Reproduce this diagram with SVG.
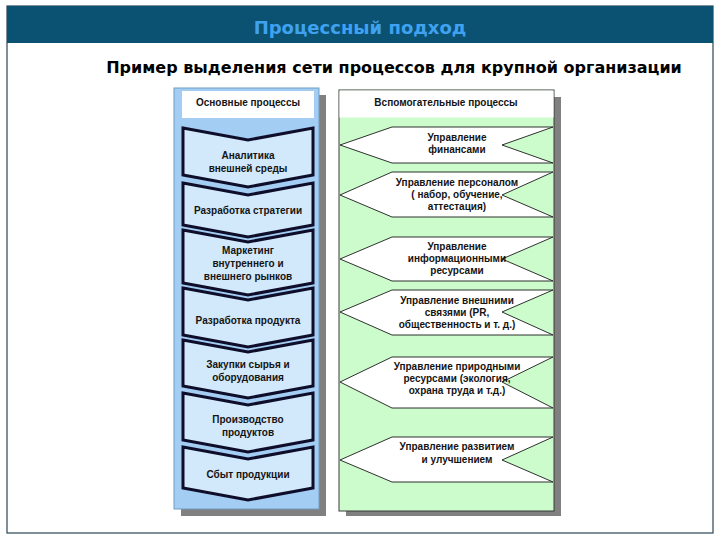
<svg xmlns="http://www.w3.org/2000/svg" width="720" height="540" viewBox="0 0 720 540">
<defs>
<style>
.t{font-family:"Liberation Sans",Arial,sans-serif;font-size:10px;font-weight:bold;fill:#141414;text-anchor:middle}
.chev{fill:#d2e8fb;stroke:#0e0e2a;stroke-width:3;stroke-linejoin:miter}
.hex{fill:#ffffff;stroke:#1a1a1a;stroke-width:0.9}
.shadow{fill:#808080}
</style>
</defs>
<rect x="0" y="0" width="720" height="540" fill="#ffffff"/>
<rect x="7" y="6" width="706" height="527" fill="#ffffff" stroke="#2a4654" stroke-width="1.2"/>
<rect x="7" y="6" width="706" height="37" fill="#0b5272"/>
<text x="360" y="34" font-family="DejaVu Sans,Verdana,sans-serif" font-size="18" font-weight="bold" fill="#3fa2f0" text-anchor="middle">Процессный подход</text>
<text x="394" y="73" font-family="DejaVu Sans,Verdana,sans-serif" font-size="16" font-weight="bold" fill="#000000" text-anchor="middle">Пример выделения сети процессов для крупной организации</text>

<g id="main-panel">
<rect class="shadow" x="181" y="95" width="145" height="421"/>
<rect x="174" y="88" width="145" height="421" fill="#a4cdf3" stroke="#6f9cc6" stroke-width="1"/>
<rect x="182" y="91" width="132" height="27" fill="#ffffff"/>
<text class="t" x="248" y="106">Основные процессы</text>
</g>

<g id="n1"><path class="chev" d="M183,128 L248,140 L313,128 L313,175 L248,187 L183,175 Z"/>
<text class="t" x="248" y="159">Аналитика</text><text class="t" x="248" y="172">внешней среды</text></g>
<g id="n2"><path class="chev" d="M183,183 L248,195 L313,183 L313,225 L248,237 L183,225 Z"/>
<text class="t" x="248" y="214">Разработка стратегии</text></g>
<g id="n3"><path class="chev" d="M183,230 L248,242 L313,230 L313,283 L248,295 L183,283 Z"/>
<text class="t" x="248" y="254">Маркетинг</text><text class="t" x="248" y="267">внутреннего и</text><text class="t" x="248" y="280">внешнего рынков</text></g>
<g id="n4"><path class="chev" d="M183,288 L248,300 L313,288 L313,335 L248,347 L183,335 Z"/>
<text class="t" x="248" y="324">Разработка продукта</text></g>
<g id="n5"><path class="chev" d="M183,340 L248,352 L313,340 L313,386 L248,398 L183,386 Z"/>
<text class="t" x="248" y="368">Закупки сырья и</text><text class="t" x="248" y="381">оборудования</text></g>
<g id="n6"><path class="chev" d="M183,393 L248,405 L313,393 L313,440 L248,452 L183,440 Z"/>
<text class="t" x="248" y="423">Производство</text><text class="t" x="248" y="436">продуктов</text></g>
<g id="n7"><path class="chev" d="M183,447 L248,459 L313,447 L313,488 L248,500 L183,488 Z"/>
<text class="t" x="248" y="478">Сбыт продукции</text></g>

<g id="support-panel">
<rect class="shadow" x="346" y="97" width="215" height="419"/>
<rect x="339" y="90" width="215" height="421" fill="#ccfccc" stroke="#3a3a3a" stroke-width="1"/>
<rect x="339.5" y="90.5" width="214" height="27" fill="#ffffff"/>
<text class="t" x="446" y="106">Вспомогательные процессы</text>
</g>

<g id="s1"><path class="hex" d="M340,145 L392,127 L553,127 L502,145 L553,163 L392,163 Z"/>
<text class="t" x="457" y="141">Управление</text><text class="t" x="457" y="153">финансами</text></g>
<g id="s2"><path class="hex" d="M340,195 L392,172 L553,172 L502,195 L553,217 L392,217 Z"/>
<text class="t" x="457" y="186">Управление персоналом</text><text class="t" x="457" y="198">( набор, обучение,</text><text class="t" x="457" y="210">аттестация)</text></g>
<g id="s3"><path class="hex" d="M340,259 L392,237 L553,237 L502,259 L553,281 L392,281 Z"/>
<text class="t" x="457" y="250">Управление</text><text class="t" x="457" y="262">информационными</text><text class="t" x="457" y="274">ресурсами</text></g>
<g id="s4"><path class="hex" d="M340,312 L392,290 L553,290 L502,312 L553,335 L392,335 Z"/>
<text class="t" x="457" y="304">Управление внешними</text><text class="t" x="457" y="316">связями (PR,</text><text class="t" x="457" y="328">общественность и т. д.)</text></g>
<g id="s5"><path class="hex" d="M340,382 L392,357 L553,357 L502,382 L553,408 L392,408 Z"/>
<text class="t" x="457" y="370">Управление природными</text><text class="t" x="457" y="382">ресурсами (экология,</text><text class="t" x="457" y="394">охрана труда и т.д.)</text></g>
<g id="s6"><path class="hex" d="M340,460 L392,437 L553,437 L502,460 L553,482 L392,482 Z"/>
<text class="t" x="457" y="450">Управление развитием</text><text class="t" x="457" y="463">и улучшением</text></g>

<g id="connectors"></g>
</svg>
